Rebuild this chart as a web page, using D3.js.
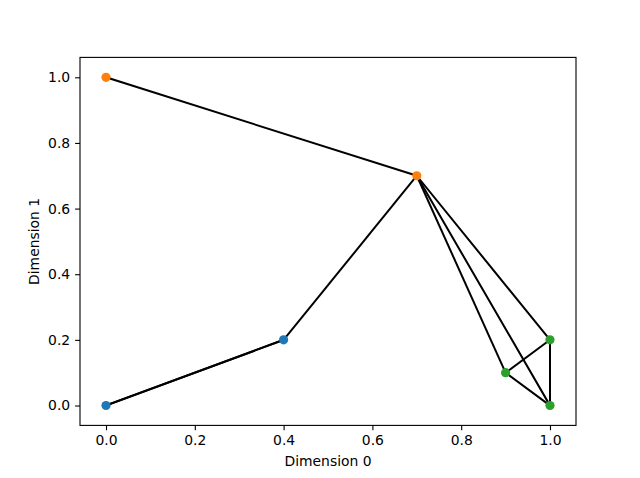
<!DOCTYPE html>
<html><head><meta charset="utf-8">
<script src="https://cdn.jsdelivr.net/npm/d3@7"></script>
<style>body{margin:0;background:#fff}text{font-family:"DejaVu Sans",sans-serif}</style>
</head><body>
<svg id="c" width="640" height="478"></svg>
<script>
const nodeX = [0.0, 0.4, 0.0, 0.7, 0.9, 1.0, 1.0];
const nodeY = [0.0, 0.2, 1.0, 0.7, 0.1, 0.2, 0.0];
const nodeGroup = [0, 0, 1, 1, 2, 2, 2];
const edgeFrom = [0, 0, 1, 2, 3, 3, 3, 4, 4, 5];
const edgeTo   = [1, 1, 3, 3, 5, 4, 6, 5, 6, 6];
const groupColors = ["#1f77b4", "#ff7f0e", "#2ca02c"];
const xTicks = [0.0, 0.2, 0.4, 0.6, 0.8, 1.0];
const yTicks = [0.0, 0.2, 0.4, 0.6, 0.8, 1.0];
const xLabel = "Dimension 0", yLabel = "Dimension 1";

const L = 80, R = 576, T = 57.4, B = 425.4;
const x = d3.scaleLinear().domain([-0.0586, 1.0586]).range([L, R]);
const y = d3.scaleLinear().domain([-0.0606, 1.0606]).range([B, T]);
const svg = d3.select("#c");

const gx = svg.append("g").attr("transform", `translate(0,${B})`)
  .call(d3.axisBottom(x).tickValues(xTicks).tickFormat(d3.format(".1f")).tickSize(4.9).tickPadding(4.9));
const gy = svg.append("g").attr("transform", `translate(${L},0)`)
  .call(d3.axisLeft(y).tickValues(yTicks).tickFormat(d3.format(".1f")).tickSize(4.9).tickPadding(4.9));
[gx, gy].forEach(g => {
  g.select(".domain").remove();
  g.selectAll("text").attr("font-size", "13.9px").attr("fill", "#000").attr("font-family", "DejaVu Sans");
  g.selectAll("line").attr("stroke", "#000").attr("stroke-width", 1.1);
});

const plot = svg.append("g");
plot.selectAll("line.e").data(edgeFrom.map((f, i) => [f, edgeTo[i]])).join("line")
  .attr("x1", d => x(nodeX[d[0]])).attr("y1", d => y(nodeY[d[0]]))
  .attr("x2", d => x(nodeX[d[1]])).attr("y2", d => y(nodeY[d[1]]))
  .attr("stroke", "#000").attr("stroke-width", 2).attr("stroke-linecap", "square");
plot.selectAll("circle").data(nodeX.map((v, i) => i)).join("circle")
  .attr("cx", i => x(nodeX[i])).attr("cy", i => y(nodeY[i])).attr("r", 4.6)
  .attr("fill", i => groupColors[nodeGroup[i]]);

svg.append("rect").attr("x", L).attr("y", T).attr("width", R - L).attr("height", B - T)
  .attr("fill", "none").attr("stroke", "#000").attr("stroke-width", 1.1);

svg.append("text").attr("x", (L + R) / 2).attr("y", 466).attr("text-anchor", "middle")
  .attr("font-size", "13.9px").text(xLabel);
svg.append("text").attr("transform", `translate(39,${(T + B) / 2}) rotate(-90)`).attr("text-anchor", "middle")
  .attr("font-size", "13.9px").text(yLabel);
</script>
</body></html>
